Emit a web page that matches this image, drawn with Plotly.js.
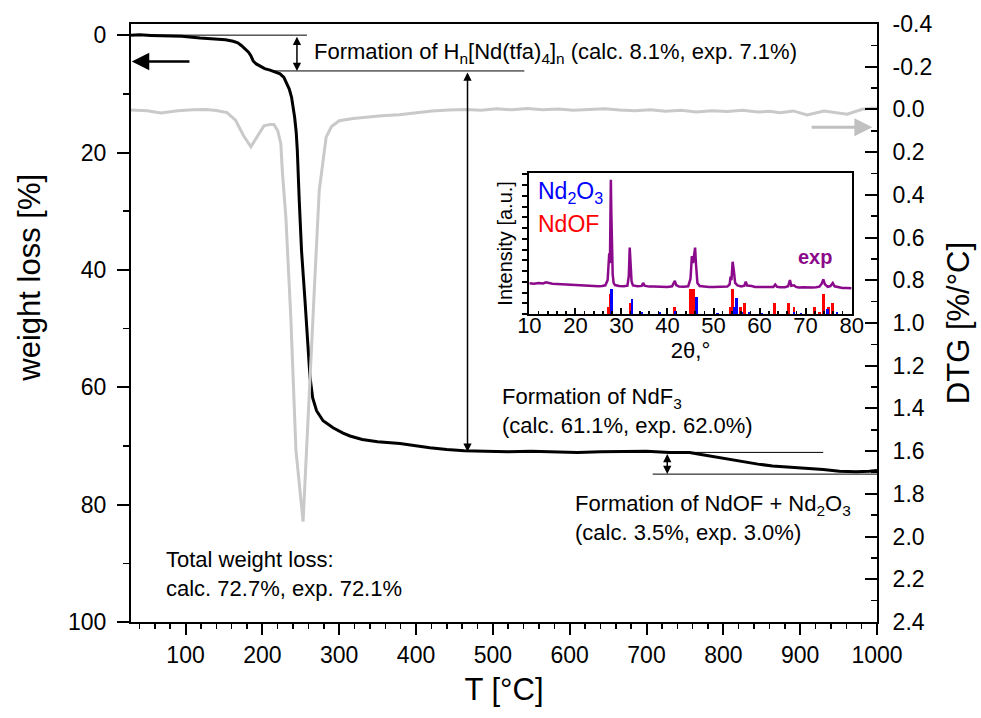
<!DOCTYPE html>
<html>
<head>
<meta charset="utf-8">
<script src="https://cdn.plot.ly/plotly-3.0.1.min.js"></script>
<style>html,body{margin:0;padding:0;background:#fff;}#chart{width:981px;height:718px;}</style>
</head>
<body>
<div id="chart"></div>
<script>
// Thermogravimetric curve: temperature (°C) and weight loss (%)
const tgTemp = [29, 40, 55, 75, 95, 119, 140, 152, 162, 168, 173, 178, 182, 185, 188, 192, 197, 203, 210, 216,
  223, 228, 232, 235, 238, 240, 242, 244, 245.5, 248, 251, 255.5, 258.5, 262, 265.5, 270.5, 279, 292, 305, 314,
  330, 350, 379, 400, 418, 440, 463, 490, 520, 550, 580, 610, 640, 670, 700, 730, 756, 769, 790, 821,
  845, 864, 885, 908, 930, 951, 973, 990, 1000];
const tgLoss = [0.0, -0.05, 0.05, 0.1, 0.2, 0.5, 0.65, 0.8, 1.05, 1.3, 1.8, 2.4, 2.9, 3.5, 4.4, 4.9, 5.3, 5.7, 5.95, 6.2,
  6.6, 7.2, 8.2, 9.2, 10.6, 12.0, 14.0, 16.5, 19.7, 28.2, 36.8, 45.3, 51.5, 58.3, 61.8, 64.0, 65.7, 66.9, 67.8, 68.3,
  68.9, 69.3, 69.6, 70.0, 70.3, 70.6, 70.8, 70.9, 71.0, 70.9, 71.0, 71.1, 71.0, 71.0, 70.9, 71.1, 71.1, 71.4, 71.9, 72.6,
  73.1, 73.4, 73.6, 73.7, 74.0, 74.3, 74.4, 74.3, 74.2];

// Derivative curve: temperature (°C) and DTG (%/°C)
const dtgTemp = [29, 50, 68, 90, 110, 127, 140, 154, 165, 175, 185, 193, 202, 210, 215, 220, 224, 226, 230.6, 237,
  243.7, 253, 260, 268, 274, 280.7, 283, 290, 300, 318, 335, 355, 378, 400, 421, 443, 465, 485, 505, 525,
  545, 565, 585, 605, 625, 645, 665, 685, 705, 725, 745, 765, 785, 805, 825, 845, 860, 874, 891, 909,
  931, 961, 981, 992, 1000];
const dtgValue = [0.003, 0.006, 0.017, 0.006, 0.001, 0.0, 0.005, 0.015, 0.05, 0.12, 0.175, 0.13, 0.077, 0.07, 0.07, 0.1, 0.16, 0.29, 0.506, 0.973,
  1.596, 1.93, 1.44, 0.815, 0.38, 0.194, 0.13, 0.08, 0.053, 0.042, 0.035, 0.03, 0.025, 0.015, 0.007, 0.003, 0.0, 0.004, -0.003, 0.002,
  -0.004, 0.001, -0.002, 0.004, 0.0, -0.003, 0.003, 0.006, 0.001, 0.008, 0.004, 0.012, 0.006, 0.01, 0.004, 0.012, 0.009, 0.015, 0.007, 0.026,
  0.007, 0.022, -0.001, -0.006, -0.006];

// Powder XRD of the residue: 2θ (°) and intensity (a.u.)
const xrdAngle = [10, 11, 12, 13, 13.6, 14.2, 15, 16, 17, 18, 19, 20, 21, 22, 23, 24, 25, 25.8, 26.5, 27.0,
  27.2, 27.35, 27.5, 27.6, 27.7, 27.8, 27.95, 28.1, 28.3, 28.6, 29.5, 30.5, 31.3, 31.6, 31.8, 32.0, 32.2, 32.5, 33.5, 34.4,
  34.7, 35.0, 36, 37, 38, 39, 40, 41.0, 41.4, 41.6, 41.9, 42.5, 43.5, 44.5, 45.0, 45.3, 45.55, 45.8, 46.0, 46.2,
  46.5, 47, 48, 49, 50, 51, 52, 53.0, 53.5, 53.7, 53.9, 54.15, 54.4, 54.7, 55.2, 56, 56.7, 57.0, 57.3, 58,
  58.3, 59, 60, 61, 62, 63.0, 63.4, 63.8, 64.5, 65.5, 66.2, 66.6, 66.9, 67.5, 67.9, 68.5, 69.5, 70.5, 71.5, 72.3,
  73.0, 73.5, 73.85, 74.2, 74.8, 75.4, 75.9, 76.3, 77, 78, 79, 80];
const xrdExp = [21.7, 21.5, 21.9, 21.6, 22.4, 21.8, 21.4, 21.2, 21.0, 20.7, 20.6, 20.3, 20.1, 20.2, 19.8, 19.9, 19.6, 19.9, 20.3, 24,
  38, 43, 36, 70, 95, 72, 32, 28, 22, 20.5, 19.8, 19.6, 20, 27, 47, 38, 23, 20.2, 19.6, 19.9,
  22, 20.1, 19.4, 19.5, 19.3, 19.4, 19.2, 19.6, 22.5, 23.5, 20.5, 19.4, 19.3, 19.6, 25, 41, 36, 44, 47, 35,
  22, 19.8, 19.3, 19.1, 19.2, 19.4, 19.1, 19.4, 21, 26.4, 24, 37, 31, 22, 20.3, 19.5, 20, 22.9, 20.2, 20.1,
  19.8, 19.1, 19.0, 19.1, 18.9, 19.2, 20.9, 19.3, 18.9, 19.0, 19.6, 24, 20, 20.3, 19.2, 18.8, 18.9, 18.7, 18.8, 18.9,
  19.4, 21.5, 24.5, 21, 19.3, 19.8, 22, 19.6, 18.9, 18.4, 18.5, 18.3];

// Reference reflections
const ndofAngle = [27.1, 27.5, 31.9, 41.6, 45.0, 45.3, 45.6, 53.7, 54.2, 55.9, 56.8, 57.8, 63.3, 66.3, 67.5, 72.0, 73.0, 73.85, 74.9, 75.9];
const ndofHeight = [5.2, 14.2, 8, 4.7, 17.5, 17.5, 17.5, 4.7, 17.5, 4.7, 8, 1.2, 8, 8, 4.7, 4.7, 1.2, 14, 4.7, 8];
const nd2o3Angle = [27.8, 32.3, 34.4, 38.2, 41.7, 46.3, 50.8, 54.5, 55.0, 56.2, 57.8, 60.5, 67.5, 69.0, 74.7, 76.8];
const nd2o3Height = [17.5, 10.4, 1.2, 1.2, 1.8, 12.3, 0.8, 5, 11, 1.2, 1.2, 0.5, 1.5, 0.6, 3.5, 1.2];

// Right axis tick labels
const dtgTicks = [-0.4, -0.2, 0.0, 0.2, 0.4, 0.6, 0.8, 1.0, 1.2, 1.4, 1.6, 1.8, 2.0, 2.2, 2.4];
const dtgTickText = ['-0.4', '-0.2', '0.0', '0.2', '0.4', '0.6', '0.8', '1.0', '1.2', '1.4', '1.6', '1.8', '2.0', '2.2', '2.4'];

// Weight-loss steps
const step1 = [0, 6.1];
const step2 = [6.1, 71.0];
const step3 = [71.1, 74.8];

const FONT = 'Arial, "Liberation Sans", Helvetica, sans-serif';

const traces = [
  { x: dtgTemp, y: dtgValue, yaxis: 'y2', type: 'scatter', mode: 'lines',
    line: { color: '#c9c9c9', width: 3 }, hoverinfo: 'skip' },
  { x: tgTemp, y: tgLoss, type: 'scatter', mode: 'lines',
    line: { color: '#000000', width: 3 }, hoverinfo: 'skip' },
  { x: ndofAngle, y: ndofHeight, xaxis: 'x3', yaxis: 'y3', type: 'bar', width: 0.6,
    marker: { color: '#ff0000', line: { width: 0 } }, hoverinfo: 'skip' },
  { x: nd2o3Angle, y: nd2o3Height, xaxis: 'x3', yaxis: 'y3', type: 'bar', width: 0.6,
    marker: { color: '#0000ff', line: { width: 0 } }, hoverinfo: 'skip' },
  { x: xrdAngle, y: xrdExp, xaxis: 'x3', yaxis: 'y3', type: 'scatter', mode: 'lines',
    line: { color: '#8b0a8b', width: 2.5 }, hoverinfo: 'skip' }
];

const thinLine = { color: '#000000', width: 1 };
const shapes = [
  { type: 'line', xref: 'x', yref: 'y', x0: 29, x1: 258, y0: step1[0], y1: step1[0], line: thinLine },
  { type: 'line', xref: 'x', yref: 'y', x0: 214, x1: 541, y0: step1[1], y1: step1[1], line: thinLine },
  { type: 'line', xref: 'x', yref: 'y', x0: 650, x1: 930, y0: step3[0], y1: step3[0], line: thinLine },
  { type: 'line', xref: 'x', yref: 'y', x0: 708, x1: 1000, y0: step3[1], y1: step3[1], line: thinLine }
];

function doubleArrow(x, ya, yb) {
  return { xref: 'x', yref: 'y', axref: 'x', ayref: 'y', x: x, y: yb, ax: x, ay: ya,
    text: '', showarrow: true, arrowhead: 2, startarrowhead: 2, arrowside: 'end+start',
    arrowsize: 1.1, startarrowsize: 1.1, arrowwidth: 1.5, arrowcolor: '#000000' };
}

const txt = (s, x, y, extra) => Object.assign({ xref: 'x', yref: 'y', x: x, y: y, text: s,
  showarrow: false, xanchor: 'left', yanchor: 'middle', align: 'left',
  font: { family: FONT, size: 22, color: '#000000' } }, extra || {});

const annotations = [
  doubleArrow(245, step1[0], step1[1]),
  doubleArrow(467, step2[0], step2[1]),
  doubleArrow(727, step3[0], step3[1]),
  // curve-to-axis markers
  { xref: 'x', yref: 'y', axref: 'x', ayref: 'y', x: 30, y: 4.5, ax: 107, ay: 4.5, text: '',
    showarrow: true, arrowhead: 2, arrowsize: 1.4, arrowwidth: 2.5, arrowcolor: '#000000' },
  { xref: 'x', yref: 'y', axref: 'x', ayref: 'y', x: 994, y: 15.7, ax: 913, ay: 15.7, text: '',
    showarrow: true, arrowhead: 2, arrowsize: 1.2, arrowwidth: 3, arrowcolor: '#c0c0c0' },
  txt('Formation of H<sub>n</sub>[Nd(tfa)<sub>4</sub>]<sub>n</sub> (calc. 8.1%, exp. 7.1%)', 264.6, 3.0),
  txt('Formation of NdF<sub>3</sub><br>(calc. 61.1%, exp. 62.0%)', 509.7, 64.1),
  txt('Formation of NdOF + Nd<sub>2</sub>O<sub>3</sub><br>(calc. 3.5%, exp. 3.0%)', 604.7, 82.2),
  txt('Total weight loss:<br>calc. 72.7%, exp. 72.1%', 72.3, 91.9),
  // left axis title, set slightly above the middle of the axis
  { xref: 'paper', yref: 'paper', x: -0.136, y: 0.575, text: 'weight loss [%]', textangle: -90,
    showarrow: false, xanchor: 'center', yanchor: 'middle',
    font: { family: FONT, size: 31, color: '#000000' } },
  // inset labels
  { xref: 'x3', yref: 'y3', x: 11.45, y: 86, text: 'Nd<sub>2</sub>O<sub>3</sub>', showarrow: false,
    xanchor: 'left', yanchor: 'middle', font: { family: FONT, size: 23, color: '#0000ff' } },
  { xref: 'x3', yref: 'y3', x: 11.45, y: 63.7, text: 'NdOF', showarrow: false,
    xanchor: 'left', yanchor: 'middle', font: { family: FONT, size: 23, color: '#ff0000' } },
  { xref: 'x3', yref: 'y3', x: 72.0, y: 40.3, text: '<b>exp</b>', showarrow: false,
    xanchor: 'center', yanchor: 'middle', font: { family: FONT, size: 20, color: '#8b0a8b' } }
];

const axisBase = { showgrid: false, zeroline: false, showline: true, linecolor: '#000000', linewidth: 2,
  tickcolor: '#000000', tickwidth: 2, tickfont: { family: FONT, size: 23, color: '#000000' } };

const layout = {
  width: 981, height: 718,
  margin: { l: 131, r: 104, t: 24, b: 96, pad: 0 },
  paper_bgcolor: '#ffffff', plot_bgcolor: '#ffffff',
  showlegend: false, barmode: 'overlay', bargap: 0,
  font: { family: FONT, color: '#000000' },
  xaxis: Object.assign({}, axisBase, {
    range: [29, 1000], mirror: true, ticks: 'outside', ticklen: 11, tick0: 0, dtick: 100,
    minor: { dtick: 20, ticks: 'outside', ticklen: 5, tickwidth: 1.5, tickcolor: '#000000' },
    title: { text: 'T [°C]', font: { family: FONT, size: 31 }, standoff: 12 }
  }),
  yaxis: Object.assign({}, axisBase, {
    range: [100, -1.9], ticks: 'outside', ticklen: 12, tick0: 0, dtick: 20, ticklabelstandoff: 6,
    minor: { dtick: 10, ticks: 'outside', ticklen: 6, tickwidth: 1.5, tickcolor: '#000000' }
  }),
  yaxis2: Object.assign({}, axisBase, {
    overlaying: 'y', side: 'right', range: [2.4, -0.4], ticks: 'inside', ticklen: 12,
    tickmode: 'array', tickvals: dtgTicks, ticktext: dtgTickText, ticklabelstandoff: 9,
    minor: { dtick: 0.1, tick0: 0, ticks: 'inside', ticklen: 6, tickwidth: 1.5, tickcolor: '#000000' },
    title: { text: 'DTG [%/°C]', font: { family: FONT, size: 31 }, standoff: 16 }
  }),
  xaxis3: Object.assign({}, axisBase, {
    anchor: 'y3', domain: [0.534, 0.966], range: [10, 80], mirror: true,
    ticks: 'inside', ticklen: 6, tick0: 0, dtick: 10, ticklabelstandoff: -9,
    tickfont: { family: FONT, size: 22, color: '#000000' },
    minor: { dtick: 2, ticks: 'inside', ticklen: 3, tickwidth: 1.5, tickcolor: '#000000' },
    title: { text: '2θ,°', font: { family: FONT, size: 22 }, standoff: 0 }
  }),
  yaxis3: Object.assign({}, axisBase, {
    anchor: 'x3', domain: [0.515, 0.7513], range: [0, 100], mirror: true,
    ticks: 'outside', ticklen: 5, tick0: 0, dtick: 7.6, showticklabels: false,
    title: { text: 'Intensity [a.u.]', font: { family: FONT, size: 20 }, standoff: 4 }
  }),
  shapes: shapes,
  annotations: annotations
};

Plotly.newPlot('chart', traces, layout, { staticPlot: true, displayModeBar: false });
</script>
</body>
</html>
